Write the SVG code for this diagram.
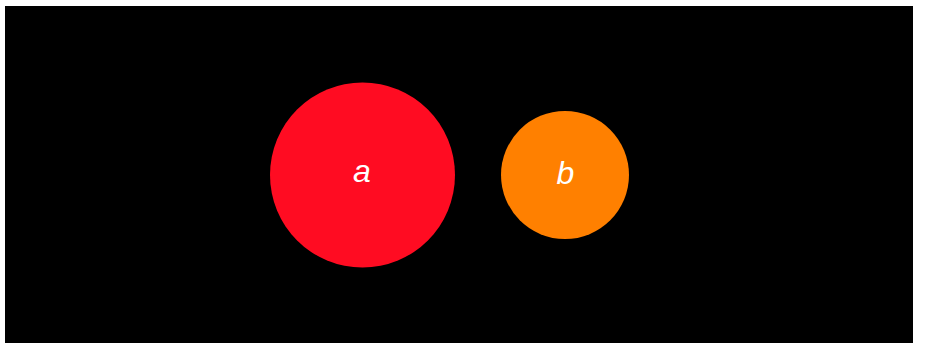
<svg xmlns="http://www.w3.org/2000/svg" width="925" height="343" viewBox="0 0 925 343">
<style>
.lbl{font-family:"Liberation Sans",Arial,sans-serif;font-style:italic;font-size:32px;fill:#ffffff;text-anchor:middle}
</style>
<rect x="0" y="0" width="925" height="343" fill="#ffffff"/>
<rect x="5" y="6" width="908" height="337" fill="#000000"/>
<g id="node-a">
<circle cx="362.5" cy="175" r="92.5" fill="#ff0c22"/>
<text class="lbl" x="362" y="182">a</text>
</g>
<g id="node-b">
<circle cx="565" cy="175" r="64" fill="#ff8000"/>
<text class="lbl" x="565.5" y="184">b</text>
</g>
<g id="connectors"></g>
</svg>
